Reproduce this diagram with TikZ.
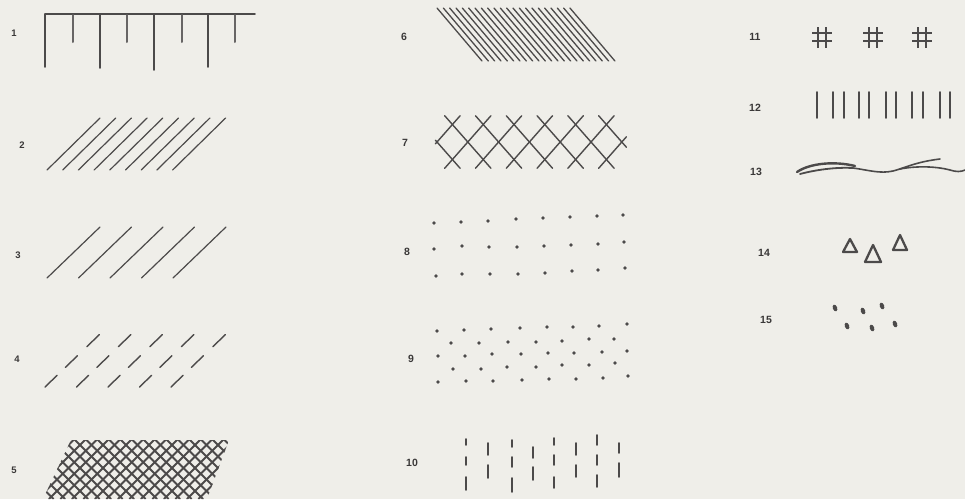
\documentclass[tikz,border=0pt]{standalone}
\usepackage{fontspec}
\setmainfont{Liberation Sans}
\begin{document}
\begin{tikzpicture}[x=1pt,y=-1pt]
\definecolor{paper}{HTML}{EFEEE9}
\definecolor{ink}{HTML}{4C4A4A}
\definecolor{labc}{HTML}{3A3838}
\tikzset{
  hatch/.style={draw=ink, line width=1.2pt, line cap=round},
  bold/.style={draw=ink, line width=1.7pt, line cap=round},
  dotc/.style={fill=ink},
  lbl/.style={text=labc, font=\bfseries\fontsize{10.5}{10.5}\selectfont, inner sep=0pt},
  lbls/.style={text=labc, font=\bfseries\fontsize{9.5}{9.5}\selectfont, inner sep=0pt},
}
\fill[paper] (0,0) rectangle (965,499);
\useasboundingbox (0,0) rectangle (965,499);

% labels
\node[lbls] (l1) at (14,33) {1};
\node[lbls] (l2) at (22,145) {2};
\node[lbls] (l3) at (18,255) {3};
\node[lbls] (l4) at (17,359) {4};
\node[lbls] (l5) at (14,470) {5};
\node[lbl] (l6) at (404,37) {6};
\node[lbl] (l7) at (405,143) {7};
\node[lbl] (l8) at (407,252) {8};
\node[lbl] (l9) at (411,359) {9};
\node[lbl] (l10) at (412,463) {10};
\node[lbl] (l11) at (755,37) {11};
\node[lbl] (l12) at (755,108) {12};
\node[lbl] (l13) at (756,172) {13};
\node[lbl] (l14) at (764,253) {14};
\node[lbl] (l15) at (766,320) {15};

% 1: comb
\draw[hatch, line width=1.5pt] (45,14) -- (255,14);
\foreach \x/\y in {45/67,100/68,154/70,208/67}
  \draw[hatch, line width=1.5pt] (\x,14) -- (\x,\y);
\foreach \x in {73,127,182,235}
  \draw[hatch, line width=2pt, draw=ink!85] (\x,15) -- (\x,42);

% 2: close hatching
\foreach \i in {0,...,8}
  \draw[hatch] ({47+15.7*\i},170) -- ({100+15.7*\i},118);

% 3: wide hatching
\foreach \i in {0,...,4}
  \draw[hatch] ({47+31.5*\i},278) -- ({100+31.5*\i},227);

% 4: dashed hatching
\foreach \i in {0,...,4}{
  \foreach \ta/\tb in {0/0.22,0.37/0.59,0.76/0.99}{
    \draw[hatch, line width=1.4pt] ({45+31.5*\i+55*\ta},{387-53*\ta}) -- ({45+31.5*\i+55*\tb},{387-53*\tb});
  }
}

% 5: dense cross hatching
\begin{scope}
  \clip (43,499) -- (71,440) -- (229,440) -- (207,499) -- cycle;
  \foreach \k in {0,...,26}{
    \draw[bold, line width=1.8pt] ({-20+11.5*\k},499) -- ({-20+11.5*\k+62},437);
    \draw[bold, line width=1.8pt] ({-20+11.5*\k},437) -- ({-20+11.5*\k+62},499);
  }
\end{scope}

% 6: very dense hatching
\foreach \k in {0,...,21}
  \draw[hatch, line width=1.3pt] ({437+6.33*\k},8) -- ({482+6.33*\k},61);

% 7: open cross hatching
\foreach \k in {0,...,6}{
  \pgfmathsetmacro{\sa}{\k==0 ? -0.1 : -1.5}
  \pgfmathsetmacro{\sb}{\k==6 ? 0.3 : 1.5}
  \draw[hatch, line width=1.4pt] ({437+30.8*\k+15.4*\sa},{142-17.5*\sa}) -- ({437+30.8*\k+15.4*\sb},{142-17.5*\sb});
  \pgfmathsetmacro{\ra}{\k==0 ? 0.1 : 1.5}
  \pgfmathsetmacro{\rb}{\k==6 ? -0.3 : -1.5}
  \draw[hatch, line width=1.4pt] ({437+30.8*\k-15.4*\ra},{142-17.5*\ra}) -- ({437+30.8*\k-15.4*\rb},{142-17.5*\rb});
}

% 8: dot grid
\foreach \x/\y in {434/223,461/222,488/221,516/219,543/218,570/217,597/216,623/215,
                   434/249,462/246,489/247,517/247,544/246,571/245,598/244,624/242,
                   436/276,462/274,490/274,518/274,545/273,572/271,598/270,625/268}
  \fill[dotc] (\x,\y) circle (1.9pt);

% 9: staggered dots
\foreach \x/\y in {437/331,464/330,491/329,520/328,547/327,573/327,599/326,627/324,
                   451/343,479/343,508/342,536/342,562/341,589/339,614/339,
                   438/356,465/356,492/354,521/354,548/353,574/353,602/352,627/351,
                   453/369,481/369,507/367,536/367,562/365,589/365,615/363,
                   438/382,466/381,493/381,522/380,549/379,576/379,603/378,628/376}
  \fill[dotc] (\x,\y) circle (1.8pt);

% 10: short vertical dashes
\foreach \x/\a/\b in {466/439/445,466/457/465,466/477/490,
                      488/443/455,488/465/478,
                      512/440/447,512/457/467,512/478/492,
                      533/447/458,533/467/480,
                      554/438/445,554/455/465,554/477/488,
                      576/443/455,576/465/477,
                      597/435/445,597/455/465,597/475/487,
                      619/443/453,619/463/477}
  \draw[hatch, line width=1.7pt] (\x,\a) -- (\x,\b);

% 11: hash signs
\foreach \c in {822,873,922}{
  \draw[bold, line width=2.1pt, line cap=butt] ({\c-4},27) -- ({\c-4},48);
  \draw[bold, line width=2.1pt, line cap=butt] ({\c+4},27) -- ({\c+4},48);
  \draw[bold, line width=2.1pt, line cap=butt] ({\c-10},33) -- ({\c+10},33);
  \draw[bold, line width=2.1pt, line cap=butt] ({\c-10},41) -- ({\c+10},41);
}

% 12: vertical strokes
\foreach \x in {817,833,844,859,869,886,896,912,923,940,950}
  \draw[hatch, line width=1.8pt] (\x,92) -- (\x,118);

% 13: scribbled line
\draw[bold, line width=2.4pt] (797,172) .. controls (810,163) and (835,161) .. (855,166);
\draw[bold, line width=1.8pt] (800,174) .. controls (815,170) and (835,167) .. (853,168);
\draw[bold, line width=1.6pt] (853,168) .. controls (868,170) and (880,174) .. (893,171)
  .. controls (905,168) and (915,162) .. (940,159);
\draw[bold, line width=1.6pt] (900,169) .. controls (915,166) and (935,166) .. (950,170)
  .. controls (956,172) and (961,172) .. (965,170);

% 14: triangles
\draw[bold, line width=2.3pt, line join=round] (843,252) -- (850,239) -- (857,252) -- cycle;
\draw[bold, line width=2.3pt, line join=round] (865,262) -- (873,245) -- (881,262) -- cycle;
\draw[bold, line width=2.3pt, line join=round] (893,250) -- (900,235) -- (907,250) -- cycle;

% 15: blobs
\foreach \x/\y in {835/308,863/311,882/306,847/326,872/328,895/324}
  \fill[ink, rotate around={20:(\x,\y)}] (\x,\y) ellipse [x radius=2.2pt, y radius=3.5pt];
\end{tikzpicture}
\end{document}
